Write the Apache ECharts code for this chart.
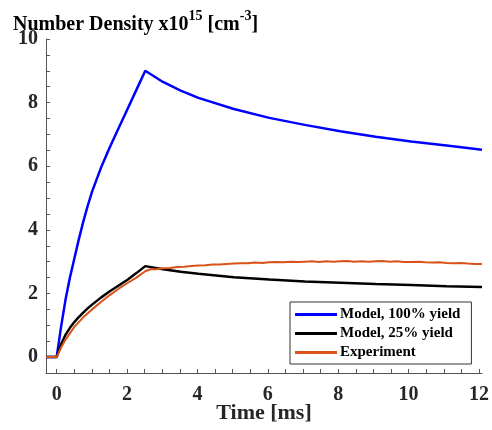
<!DOCTYPE html>
<html>
<head>
<meta charset="utf-8">
<script src="https://cdn.jsdelivr.net/npm/echarts@6/dist/echarts.min.js"></script>
<style>
  html, body { margin: 0; padding: 0; background: #fff; }
  #chart { width: 492px; height: 430px; }
</style>
</head>
<body>
<div id="chart"></div>
<script>
// model curves (ms, x1e15 cm^-3)
var modelTime = [-0.3, 0, 0.125, 0.25, 0.375, 0.5, 0.625, 0.75, 0.875, 1.0, 1.25, 1.5, 1.75, 2.0, 2.25, 2.5,
                 3, 3.5, 4, 5, 6, 7, 8, 9, 10, 11, 12];
var model100 = [0, 0, 0.95, 1.8, 2.5, 3.1, 3.7, 4.25, 4.75, 5.2, 5.95, 6.6, 7.2, 7.8, 8.4, 9.0,
                8.65, 8.38, 8.15, 7.8, 7.52, 7.3, 7.1, 6.93, 6.78, 6.65, 6.52];
var model25 = [0, 0, 0.4, 0.7, 0.92, 1.1, 1.26, 1.4, 1.53, 1.65, 1.87, 2.07, 2.25, 2.43, 2.64, 2.86,
               2.76, 2.68, 2.62, 2.51, 2.44, 2.38, 2.34, 2.30, 2.27, 2.23, 2.20];

// measured curve
var expTime = [-0.3, 0, 0.125, 0.25, 0.5, 0.75, 1.0, 1.25, 1.5, 1.75, 2.0, 2.25, 2.5, 2.65,
               2.8, 3.0, 3.2, 3.4, 3.6, 3.8, 4.0, 4.2, 4.4, 4.6, 4.8, 5.0, 5.2, 5.4, 5.6, 5.8,
               6.0, 6.2, 6.4, 6.6, 6.8, 7.0, 7.2, 7.4, 7.6, 7.8, 8.0, 8.2, 8.4, 8.6, 8.8,
               9.0, 9.2, 9.4, 9.6, 9.8, 10.0, 10.2, 10.4, 10.6, 10.8, 11.0, 11.2, 11.4,
               11.6, 11.8, 12.0];
var expValue = [0, 0, 0.3, 0.55, 0.95, 1.25, 1.5, 1.73, 1.95, 2.15, 2.33, 2.5, 2.7, 2.76,
                2.76, 2.79, 2.80, 2.83, 2.84, 2.86, 2.88, 2.89, 2.91, 2.91, 2.93, 2.94, 2.95, 2.95, 2.97, 2.96,
                2.98, 2.99, 2.98, 3.00, 2.99, 3.00, 3.01, 2.99, 3.01, 3.00, 3.01, 3.02, 3.00, 3.01, 3.00,
                3.01, 3.02, 3.00, 3.01, 2.99, 2.99, 3.00, 2.98, 2.97, 2.98, 2.96, 2.95, 2.96,
                2.94, 2.93, 2.93];

var seriesNames = ['Model, 100% yield', 'Model, 25% yield', 'Experiment'];
var xMin = -0.3, xMax = 12;

function pairs(xs, ys) {
  return xs.map(function (x, i) { return [x, ys[i]]; });
}
function evenLabel(v) {
  return (Math.abs(v % 2) < 1e-6 && v >= 0) ? String(v) : '';
}

var chart = echarts.init(document.getElementById('chart'));
var font = 'Liberation Serif';

// plot box
var gLeft = 46, gRight = 10, gTop = 39, gBottom = 57;
var plotW = 492 - gLeft - gRight;
// second grid starting at x = 0, only used to draw ticks every 0.5
var tickLeft = gLeft + (0 - xMin) / (xMax - xMin) * plotW;

var labelStyle = { fontFamily: font, fontWeight: 'bold', fontSize: 20, color: '#262626' };

chart.setOption({
  animation: false,
  title: {
    text: '{b|Number Density x10}{s|15}{b| [cm}{s|-3}{b|]}',
    left: 8, top: 4,
    textStyle: {
      rich: {
        b: { fontFamily: font, fontWeight: 'bold', fontSize: 20, color: '#000', verticalAlign: 'bottom', lineHeight: 26 },
        s: { fontFamily: font, fontWeight: 'bold', fontSize: 14, color: '#000', verticalAlign: 'top', lineHeight: 26 }
      }
    }
  },
  grid: [
    { left: gLeft, right: gRight, top: gTop, bottom: gBottom },
    { left: tickLeft, right: gRight, top: gTop, bottom: gBottom }
  ],
  legend: {
    orient: 'vertical',
    left: 290, top: 302,
    data: seriesNames,
    icon: 'rect',
    itemWidth: 42, itemHeight: 3, itemGap: 4,
    padding: [5, 11, 4, 5],
    borderColor: '#333', borderWidth: 1, borderRadius: 0,
    backgroundColor: '#fff',
    textStyle: { fontFamily: font, fontWeight: 'bold', fontSize: 15, color: '#000', padding: [0, 0, 0, -2] }
  },
  xAxis: [
    {
      type: 'value', gridIndex: 0,
      min: xMin, max: xMax,
      name: 'Time [ms]',
      nameLocation: 'middle', nameGap: 29,
      nameTextStyle: { fontFamily: font, fontWeight: 'bold', fontSize: 22, color: '#262626' },
      axisLine: { onZero: false, lineStyle: { color: '#555', width: 1 } },
      axisTick: { show: false },
      axisLabel: { show: false },
      splitLine: { show: false }
    },
    {
      type: 'value', gridIndex: 1,
      min: 0, max: xMax, interval: 0.5,
      axisLine: { show: false, onZero: false },
      axisTick: { inside: true, length: 4, lineStyle: { color: '#555' } },
      axisLabel: Object.assign({ margin: 12, formatter: evenLabel }, labelStyle),
      splitLine: { show: false }
    }
  ],
  yAxis: [
    {
      type: 'value', gridIndex: 0,
      min: -0.5, max: 10, interval: 0.5,
      axisLine: { show: true, onZero: false, lineStyle: { color: '#555', width: 1 } },
      axisTick: { show: true, inside: true, length: 4, lineStyle: { color: '#555' } },
      axisLabel: Object.assign({ margin: 8, formatter: evenLabel }, labelStyle),
      splitLine: { show: false }
    },
    {
      type: 'value', gridIndex: 1, min: -0.5, max: 10, show: false
    }
  ],
  series: [
    {
      name: seriesNames[0], type: 'line', data: pairs(modelTime, model100),
      showSymbol: false, color: '#0000ff', lineStyle: { width: 2.5, color: '#0000ff' }, z: 2
    },
    {
      name: seriesNames[1], type: 'line', data: pairs(modelTime, model25),
      showSymbol: false, color: '#000000', lineStyle: { width: 2.5, color: '#000000' }, z: 3
    },
    {
      name: seriesNames[2], type: 'line', data: pairs(expTime, expValue),
      showSymbol: false, color: '#d95319', lineStyle: { width: 2, color: '#d95319' }, z: 4
    }
  ]
});
</script>
</body>
</html>
